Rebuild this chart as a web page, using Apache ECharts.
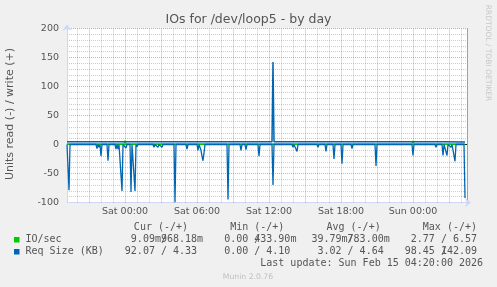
<!DOCTYPE html>
<html><head><meta charset="utf-8">
<script src="https://cdn.jsdelivr.net/npm/echarts@6/dist/echarts.min.js"></script>
<style>html,body{margin:0;padding:0;background:#f0f0f0;}#c{width:497px;height:287px;}</style>
</head><body><div id="c"></div>
<script>
// ---- data (x = minutes relative to Sat 00:00, 5-minute samples) ----
const xStart = -290;          // Fri 19:10
const xEnd = 1710;            // Sun 04:30
const dataEnd = 1700;         // last update Sun 04:20
const xTickValues = [0, 360, 720, 1080, 1440];
const xTickLabels = ['Sat 00:00', 'Sat 06:00', 'Sat 12:00', 'Sat 18:00', 'Sun 00:00'];

// IO/sec (read drawn negative, write positive)
const ioReadPoints = [[-290, -0.04], [0, -0.05], [1440, -0.04], [1700, -0.01]];
const ioWritePoints = [[-290, 0.95], [-5, 0.95], [0, 6.57], [5, 0.95], [1435, 0.95], [1440, 6.0], [1445, 0.95], [1700, 0.97]];

// Req Size (KB) read: spikes (minute, negated value), zero elsewhere
const reqReadSpikes = [
  [-280, -79], [-140, -7], [-130, -5], [-120, -20], [-85, -28], [-45, -8], [-35, -8],
  [-15, -80], [5, -6], [30, -82], [50, -80], [60, -4],
  [145, -5], [165, -5], [185, -5], [250, -99.4], [310, -8], [365, -10],
  [380, -10], [385, -20], [390, -28], [395, -15], [515, -95], [580, -10], [605, -9],
  [670, -20], [740, -70], [840, -5], [860, -12], [965, -5], [1005, -12], [1045, -25],
  [1085, -33], [1135, -7], [1255, -37], [1440, -19], [1455, -3], [1555, -5],
  [1590, -19], [1600, -3], [1610, -19], [1630, -5], [1650, -29], [1700, -92.07]
];
// Req Size (KB) write
const reqWritePoints = [
  [-290, 4.6], [0, 4.6], [735, 4.6], [740, 142.09], [745, 4.6],
  [1595, 4.6], [1600, 6], [1605, 4.6], [1700, 4.33]
];

// legend
const legendHeaders = ['Cur (-/+)', 'Min (-/+)', 'Avg (-/+)', 'Max (-/+)'];
const ioLegendRead = ['9.09m', '0.00', '39.79m', '2.77'];
const ioLegendWrite = ['968.18m', '433.90m', '783.00m', '6.57'];
const reqLegendRead = ['92.07', '0.00', '3.02', '98.45'];
const reqLegendWrite = ['4.33', '4.10', '4.64', '142.09'];
const seriesNames = ['IO/sec', 'Req Size (KB)'];
const seriesColors = ['#00CC00', '#0066B3'];

// ---- build ----
function spikeLine(spikes, start, end) {
  const pts = [[start, 0]];
  spikes.forEach(function (s, i) {
    const t = s[0];
    const last = pts[pts.length - 1];
    if (last[0] < t - 5) pts.push([t - 5, 0]);
    pts.push([t, s[1]]);
    const next = spikes[i + 1];
    if (t + 5 <= end && (!next || next[0] > t + 5)) pts.push([t + 5, 0]);
  });
  if (pts[pts.length - 1][0] < end) pts.push([end, 0]);
  return pts;
}

const gridLines = [];
for (let h = -240; h <= 1680; h += 60) {
  const major = (h % 180 === 0);
  gridLines.push({
    xAxis: h,
    lineStyle: major ? { color: 'rgba(255,0,0,0.38)', type: [1, 1], width: 1 }
                     : { color: 'rgba(0,0,0,0.2)', type: [1, 1], width: 1 }
  });
}

const FONT = 'DejaVu Sans';
const MONO = '10px "DejaVu Sans Mono"';
const TXT = '#555';
const cw = 6.02, ox = 25.5;
function cx(i) { return ox + i * cw; }

const graphic = [];
function t(text, x, y, font, fill, align, extra) {
  const g = { type: 'text', x: x, y: y, silent: true,
    style: { text: text, font: font, fill: fill, textAlign: align || 'left', textVerticalAlign: 'middle' } };
  if (extra) Object.assign(g, extra);
  graphic.push(g);
}
t('IOs for /dev/loop5 - by day', 248.5, 19.5, '12.5px "' + FONT + '"', TXT, 'center');
t('Units read (-) / write (+)', 10, 114, '11px "' + FONT + '"', TXT, 'center', { rotation: Math.PI / 2 });
t('RRDTOOL / TOBI OETIKER', 487.5, 53, '7.5px "' + FONT + '"', '#c8c8c8', 'center', { rotation: -Math.PI / 2 });

const headerIdx = [18, 34, 50, 66];
legendHeaders.forEach(function (h, i) { t(h, cx(headerIdx[i]), 227.7, MONO, TXT); });

const colR = [21.5, 37, 52.5, 68];
const rows = [
  { y: 239.7, name: seriesNames[0], color: seriesColors[0], r: ioLegendRead, w: ioLegendWrite },
  { y: 251.7, name: seriesNames[1], color: seriesColors[1], r: reqLegendRead, w: reqLegendWrite }
];
rows.forEach(function (row) {
  graphic.push({ type: 'rect', silent: true, shape: { x: 14, y: row.y - 2.7, width: 5.5, height: 5.5 }, style: { fill: row.color } });
  t(row.name, ox, row.y, MONO, TXT);
  for (let k = 0; k < 4; k++) {
    const R = colR[k];
    const rv = row.r[k], wv = row.w[k];
    const rNum = rv.replace(/m$/, '').length;
    const wNum = wv.replace(/m$/, '').length;
    t(rv, cx(R - rNum), row.y, MONO, TXT);
    t('/', cx(R + 1), row.y, MONO, TXT);
    t(wv, cx(R + 7 - wNum), row.y, MONO, TXT);
  }
});
t('Last update: Sun Feb 15 04:20:00 2026', cx(76), 263.7, MONO, TXT, 'right');
t('Munin 2.0.76', 248, 276.7, '7.7px "' + FONT + '"', '#c0c0c0', 'center');

const chart = echarts.init(document.getElementById('c'), null, { renderer: 'canvas' });
chart.setOption({
  animation: false,
  backgroundColor: '#f0f0f0',
  textStyle: { fontFamily: FONT },
  grid: { left: 67, top: 28.5, width: 400, height: 174, show: true, backgroundColor: '#ffffff', borderWidth: 0 },
  xAxis: {
    type: 'value', min: xStart, max: xEnd,
    axisLine: { show: true, onZero: false, lineStyle: { color: '#CFD6F8', width: 1 },
      symbol: ['none', 'arrow'], symbolSize: [7, 6], symbolOffset: [0, 4] },
    axisTick: { show: false },
    splitLine: { show: false },
    axisLabel: {
      customValues: xTickValues,
      formatter: function (v) { const i = xTickValues.indexOf(v); return i >= 0 ? xTickLabels[i] : ''; },
      fontSize: 9.5, color: TXT, margin: 4, fontFamily: FONT
    }
  },
  yAxis: [{
    type: 'value', min: -100, max: 200, interval: 50,
    axisLine: { show: true, onZero: false, lineStyle: { color: '#CFD6F8', width: 1 },
      symbol: ['none', 'arrow'], symbolSize: [7, 6], symbolOffset: [0, 4] },
    axisTick: { show: false },
    axisLabel: { fontSize: 9.5, color: TXT, margin: 8, fontFamily: FONT },
    splitLine: { show: true, lineStyle: { color: 'rgba(255,0,0,0.38)', type: [1, 1], width: 1 } },
    minorTick: { show: false, splitNumber: 5 },
    minorSplitLine: { show: true, lineStyle: { color: 'rgba(0,0,0,0.2)', type: [1, 1], width: 1 } }
  }, {
    type: 'value', min: -100, max: 200, position: 'right',
    axisLine: { show: true, onZero: false, lineStyle: { color: '#a0a0a0', width: 1 } },
    axisTick: { show: false }, axisLabel: { show: false }, splitLine: { show: false }
  }],
  series: [
    { type: 'line', name: 'grid', data: [], silent: true, z: 1,
      markLine: { z: 1, silent: true, symbol: ['none', 'none'], label: { show: false }, animation: false, data: gridLines } },
    { type: 'line', name: 'IO/sec read', data: ioReadPoints, showSymbol: false, z: 2,
      lineStyle: { color: seriesColors[0], width: 1 }, itemStyle: { color: seriesColors[0] },
      markLine: { z: 2, silent: true, symbol: ['none', 'none'], label: { show: false }, animation: false,
        lineStyle: { color: '#222', width: 1, type: 'solid' }, data: [{ yAxis: 0 }] } },
    { type: 'line', name: 'IO/sec write', data: ioWritePoints, showSymbol: false, z: 3,
      lineStyle: { color: seriesColors[0], width: 1.2 } },
    { type: 'line', name: 'Req read', data: spikeLine(reqReadSpikes, xStart, dataEnd), showSymbol: false, z: 4,
      lineStyle: { color: seriesColors[1], width: 1.3 } },
    { type: 'line', name: 'Req write', data: reqWritePoints, showSymbol: false, z: 5,
      lineStyle: { color: seriesColors[1], width: 1.5 } }
  ],
  graphic: graphic
});
</script>
</body></html>
